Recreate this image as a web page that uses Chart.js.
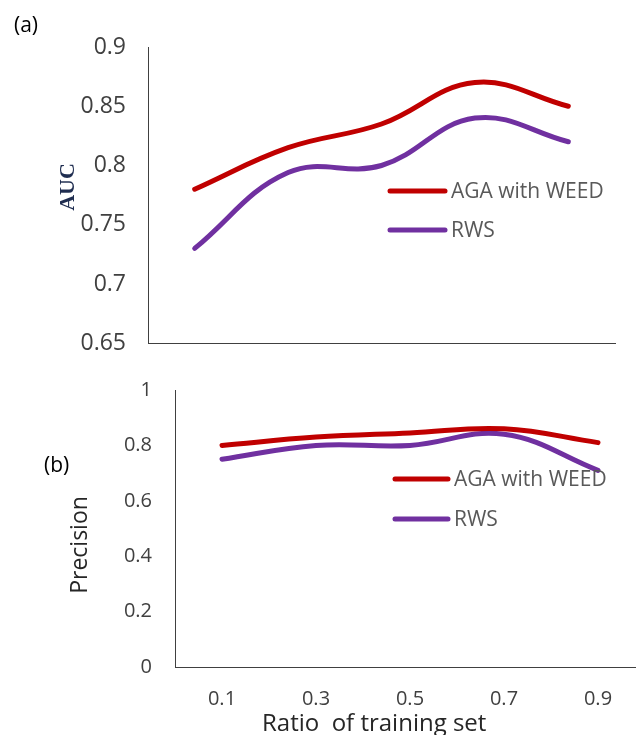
<!DOCTYPE html>
<html>
<head>
<meta charset="utf-8">
<script src="https://cdn.jsdelivr.net/npm/chart.js@4"></script>
<style>
  html, body { margin: 0; padding: 0; background: #fff; }
  body { width: 636px; height: 735px; overflow: hidden; position: relative; font-family: "Open Sans", sans-serif; }
  canvas { position: absolute; left: 0; }
  #aucChart { top: 0; }
  #precChart { top: 355px; }
  .lbl { position: absolute; white-space: pre; line-height: 1; }
  .rot { transform: translate(-50%, -50%) rotate(-90deg); }
</style>
</head>
<body>
<canvas id="aucChart" width="636" height="379"></canvas>
<canvas id="precChart" width="660" height="380"></canvas>

<div class="lbl" style="left:14px; top:14px; font-size:21px; color:#000;">(a)</div>
<div class="lbl" style="left:44px; top:454px; font-size:21px; color:#000;">(b)</div>
<div class="lbl rot" style="left:67px; top:187px; font-family:'Liberation Serif', serif; font-weight:bold; font-size:22px; color:#1f2d50;">AUC</div>
<div class="lbl rot" style="left:78px; top:545px; font-size:23px; color:#262626;">Precision</div>
<div class="lbl" style="left:262px; top:710px; font-size:24px; color:#262626;">Ratio  of training set</div>

<script>
  // Ratio of training set
  const categories = ['0.1', '0.3', '0.5', '0.7', '0.9'];
  const seriesNames = ['AGA with WEED', 'RWS'];

  // (a) AUC
  const aucWeed = [0.78, 0.815, 0.835, 0.87, 0.85];
  const aucRws = [0.73, 0.794, 0.80, 0.84, 0.82];
  const aucTicks = [0.65, 0.7, 0.75, 0.8, 0.85, 0.9];

  // (b) Precision
  const precWeed = [0.80, 0.83, 0.845, 0.86, 0.81];
  const precRws = [0.75, 0.80, 0.80, 0.84, 0.71];
  const precTicks = [0, 0.2, 0.4, 0.6, 0.8, 1];

  const RED = '#C00000';
  const PURPLE = '#7030A0';
  const AXIS = '#404040';

  // legend drawn next to the lines, Excel style
  const lineLegend = {
    id: 'lineLegend',
    afterDraw(chart, args, opts) {
      const ctx = chart.ctx;
      ctx.save();
      ctx.font = '21px "Open Sans"';
      ctx.textBaseline = 'middle';
      ctx.textAlign = 'left';
      chart.data.datasets.forEach((ds, i) => {
        const y = opts.y + i * opts.gap;
        ctx.strokeStyle = ds.borderColor;
        ctx.lineWidth = 5;
        ctx.lineCap = 'round';
        ctx.beginPath();
        ctx.moveTo(opts.x, y);
        ctx.lineTo(opts.x + opts.len, y);
        ctx.stroke();
        ctx.fillStyle = '#595959';
        ctx.fillText(ds.label, opts.x + opts.len + 6, y + 1);
      });
      ctx.restore();
    }
  };

  function makeDatasets(a, b) {
    return [a, b].map((vals, i) => ({
      label: seriesNames[i],
      data: vals,
      borderColor: i === 0 ? RED : PURPLE,
      backgroundColor: i === 0 ? RED : PURPLE,
      borderWidth: 5,
      borderCapStyle: 'round',
      pointRadius: 0,
      tension: 0.4,
      fill: false
    }));
  }

  function fmt(v) {
    return String(Number(v.toFixed(2)));
  }

  new Chart(document.getElementById('aucChart').getContext('2d'), {
    type: 'line',
    data: { labels: categories, datasets: makeDatasets(aucWeed, aucRws) },
    options: {
      responsive: false,
      animation: false,
      layout: { padding: { left: 0, top: 47, right: 21, bottom: 18 } },
      plugins: {
        legend: { display: false },
        tooltip: { enabled: false },
        lineLegend: { x: 390, y: 191, gap: 39, len: 55 }
      },
      scales: {
        x: {
          offset: true,
          grid: { display: false },
          border: { color: AXIS, width: 1 },
          ticks: { display: false },
          afterFit: s => { s.height = 0; }
        },
        y: {
          min: aucTicks[0],
          max: aucTicks[aucTicks.length - 1],
          grid: { display: false, drawTicks: false },
          border: { color: AXIS, width: 1 },
          afterBuildTicks: s => { s.ticks = aucTicks.map(v => ({ value: v })); },
          ticks: {
            padding: 22,
            color: AXIS,
            font: { family: 'Open Sans', size: 23 },
            callback: v => fmt(v)
          },
          afterFit: s => { s.width = 148; }
        }
      }
    },
    plugins: [lineLegend]
  });

  new Chart(document.getElementById('precChart').getContext('2d'), {
    type: 'line',
    data: { labels: categories, datasets: makeDatasets(precWeed, precRws) },
    options: {
      responsive: false,
      animation: false,
      layout: { padding: { left: 0, top: 18, right: 15, bottom: 0 } },
      plugins: {
        legend: { display: false },
        tooltip: { enabled: false },
        lineLegend: { x: 395, y: 124, gap: 40, len: 53 }
      },
      scales: {
        x: {
          offset: true,
          grid: { display: false, drawTicks: false },
          border: { color: AXIS, width: 1 },
          ticks: {
            padding: 20,
            color: AXIS,
            maxRotation: 0,
            font: { family: 'Open Sans', size: 20 }
          },
          afterFit: s => { s.height = 68; }
        },
        y: {
          min: precTicks[0],
          max: precTicks[precTicks.length - 1],
          grid: { display: false, drawTicks: false },
          border: { color: AXIS, width: 1 },
          afterBuildTicks: s => { s.ticks = precTicks.map(v => ({ value: v })); },
          ticks: {
            padding: 23,
            color: AXIS,
            font: { family: 'Open Sans', size: 20 },
            callback: v => fmt(v)
          },
          afterFit: s => { s.width = 175; }
        }
      }
    },
    plugins: [lineLegend]
  });
</script>
</body>
</html>
